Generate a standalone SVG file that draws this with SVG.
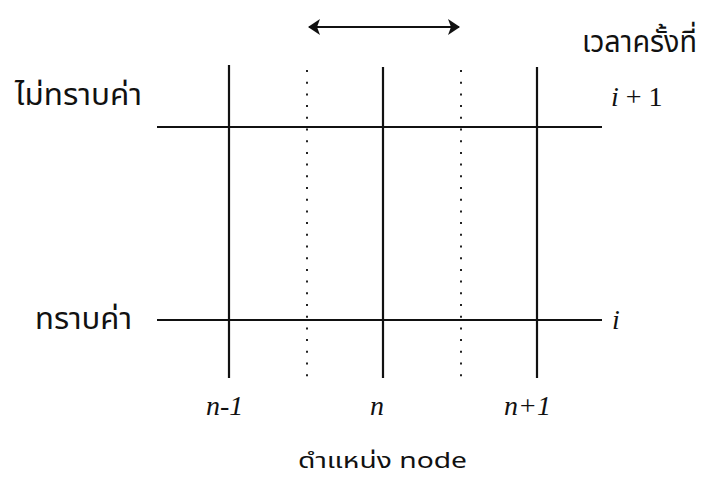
<svg xmlns="http://www.w3.org/2000/svg" width="703" height="483" viewBox="0 0 703 483">
<style>
.ln{stroke:#111;stroke-width:2.2;fill:none}
.dot{stroke:#222;stroke-width:2;stroke-dasharray:2 9.7;fill:none}
.th{font-family:"Noto Sans Thai","Noto Sans","DejaVu Sans",sans-serif;fill:#111}
.mt{font-family:"Liberation Serif","Times New Roman",serif;font-style:italic;fill:#111}
.mr{font-family:"Liberation Serif","Times New Roman",serif;fill:#111}
</style>
<defs>
<marker id="ah" viewBox="0 0 12 16" refX="11" refY="8" markerWidth="12" markerHeight="16" markerUnits="userSpaceOnUse" orient="auto-start-reverse">
<path d="M0,0 L12,8 L0,16 L3,8 Z" fill="#111"/>
</marker>
</defs>
<g id="connectors">
<line class="ln" x1="229" y1="65" x2="229" y2="378"/>
<line class="ln" x1="383" y1="67" x2="383" y2="378"/>
<line class="ln" x1="537" y1="67" x2="537" y2="378"/>
<line class="ln" x1="157" y1="127" x2="602" y2="127"/>
<line class="ln" x1="157" y1="320" x2="602" y2="320"/>
<line class="dot" x1="307" y1="70" x2="307" y2="380"/>
<line class="dot" x1="461" y1="70" x2="461" y2="380"/>
<line class="ln" x1="309" y1="27" x2="459" y2="27" marker-start="url(#ah)" marker-end="url(#ah)"/>
</g>
<g id="label-time"><text class="th" x="582" y="52" font-size="30" textLength="115" lengthAdjust="spacingAndGlyphs">เวลาครั้งที่</text></g>
<g id="label-i1"><text class="mt" x="611" y="106" font-size="28">i<tspan class="mr" font-style="normal"> + 1</tspan></text></g>
<g id="label-unknown"><text class="th" x="15" y="105" font-size="30" textLength="127" lengthAdjust="spacingAndGlyphs">ไม่ทราบค่า</text></g>
<g id="label-known"><text class="th" x="35" y="329" font-size="30" textLength="97" lengthAdjust="spacingAndGlyphs">ทราบค่า</text></g>
<g id="label-i"><text class="mt" x="612" y="329" font-size="28">i</text></g>
<g id="label-n-1"><text class="mt" x="206" y="415" font-size="28">n-1</text></g>
<g id="label-n"><text class="mt" x="370" y="415" font-size="28">n</text></g>
<g id="label-n+1"><text class="mt" x="504" y="415" font-size="28">n+1</text></g>
<g id="label-node"><text class="th" x="298" y="468" font-size="22" textLength="169" lengthAdjust="spacingAndGlyphs">ดำแหน่ง node</text></g>
</svg>
